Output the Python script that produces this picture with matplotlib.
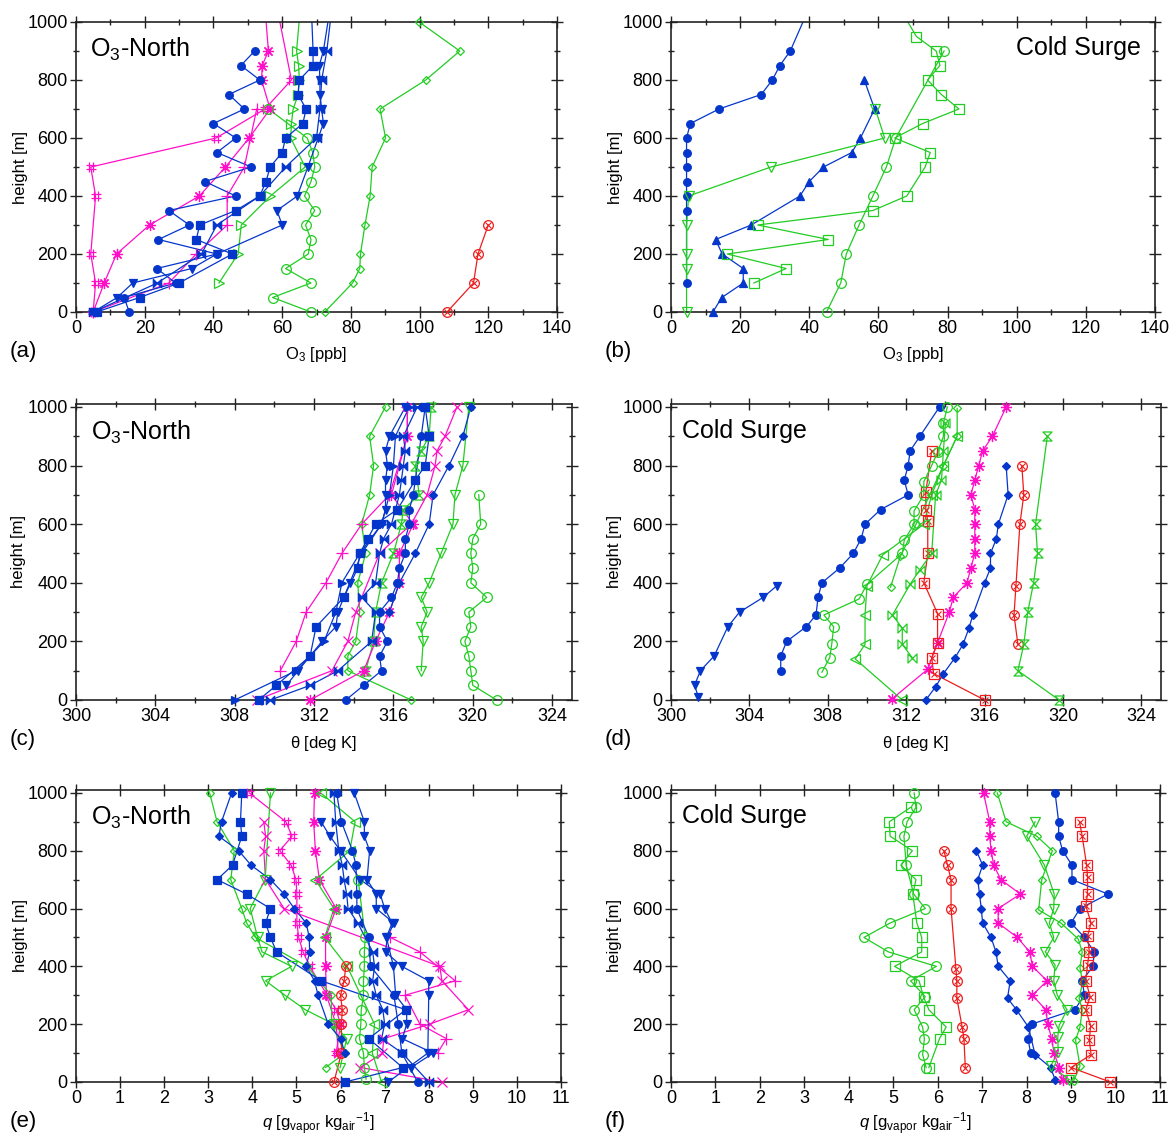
import numpy as np
import matplotlib
matplotlib.use("Agg")
import matplotlib.pyplot as plt
from matplotlib.path import Path
from matplotlib.ticker import MultipleLocator

plt.rcParams['font.family'] = ['Liberation Sans', 'DejaVu Sans']
plt.rcParams['mathtext.fontset'] = 'custom'
plt.rcParams['mathtext.rm'] = 'Liberation Sans'
plt.rcParams['mathtext.it'] = 'Liberation Sans:italic'

# ---------------- data: (height [m], value) ----------------
# (a) O3, O3-North
a_blue_circle = [(0, 15.5), (50, 14), (100, 29), (150, 23.5), (200, 41), (250, 24), (300, 33), (350, 27),
                 (400, 46.5), (450, 37.5), (500, 51), (550, 41), (600, 46.5), (650, 40), (700, 49),
                 (750, 44.5), (800, 53.5), (850, 48), (900, 52)]
a_blue_square = [(0, 6), (50, 18.5), (100, 30), (200, 45.5), (250, 35), (300, 36), (350, 46.5), (400, 53.5),
                 (450, 55.3), (500, 56.5), (550, 60), (600, 61), (650, 66), (700, 67), (750, 64.6), (800, 65),
                 (850, 69), (900, 69), (1050, 68.5)]
a_blue_tri = [(0, 5), (50, 12), (100, 16.5), (150, 33.7), (200, 41), (300, 60), (350, 58.5), (400, 64.4),
              (500, 67.5), (600, 70.5), (650, 72), (700, 71.5), (750, 71), (800, 71), (850, 70.8), (900, 72),
              (1050, 74)]
a_blue_bow = [(0, 5), (100, 23.7), (200, 36.5), (300, 41), (400, 53.5), (500, 61), (600, 70), (700, 71),
              (800, 71.5), (900, 73), (1050, 74.5)]
a_green_right = [(100, 41.6), (200, 47.2), (300, 48.1), (400, 56.6), (500, 66.7), (600, 62.5), (650, 62.7),
                 (700, 63.2), (750, 64.7), (800, 65), (850, 64.8), (900, 64.2), (1050, 65.3)]
a_green_circle = [(0, 68.4), (50, 57.2), (100, 68.4), (150, 61), (200, 67.6), (250, 68.4), (300, 66.8),
                  (350, 69.5), (400, 66.5), (450, 68.4), (500, 69.5), (550, 68.9), (600, 67.3), (700, 56)]
a_green_diamond = [(0, 72.4), (100, 80.5), (150, 82.6), (200, 82.8), (300, 84.1), (400, 85.6), (500, 86.2),
                   (600, 90.1), (700, 88.5), (800, 101.8), (900, 111.7), (1000, 99.9)]
a_red_circle = [(0, 108), (100, 115.7), (200, 117), (300, 120)]
a_pink_ast = [(0, 5), (100, 8.2), (200, 11.8), (300, 21.4), (400, 35.9), (500, 43.5), (600, 50.4),
              (700, 56.5), (800, 54), (850, 54.2), (900, 56), (1050, 55)]
a_pink_hash = [(0, 5), (100, 5.7), (200, 4.3), (400, 5.7), (500, 4.3), (600, 40.8), (700, 55), (800, 62.7),
               (1050, 58.5)]
a_pink_plus = [(0, 5), (100, 27), (200, 35), (300, 44), (400, 44), (500, 49), (700, 52.6)]

# (b) O3, Cold Surge
b_blue_circle = [(100, 4.5), (350, 4.5), (400, 4.5), (450, 4.5), (500, 4.5), (550, 4.5), (600, 4.5),
                 (650, 5.6), (700, 13.9), (750, 26.1), (800, 29.3), (850, 31.5), (900, 34.5), (1050, 40)]
b_blue_tri = [(0, 12.1), (50, 14.7), (100, 20.9), (150, 20.9), (200, 14.8), (250, 12.9), (300, 23.2),
              (400, 37.3), (450, 40), (500, 44.1), (550, 52.3), (600, 54.8), (700, 58.9), (800, 55.9)]
b_green_tri = [(0, 4.5), (150, 4.5), (200, 4.5), (300, 4.5), (400, 5.1), (500, 28.9), (600, 61.8), (700, 59.1)]
b_green_square = [(100, 24), (150, 33.3), (200, 16.3), (250, 45.5), (300, 25.1), (350, 58.4), (400, 68.2),
                  (500, 73.5), (550, 75), (600, 64.7), (650, 72.8), (700, 83.3), (750, 78.2), (800, 74.2),
                  (850, 77.8), (900, 76.7), (950, 71), (1050, 66)]
b_green_circle = [(0, 45), (100, 49.1), (200, 50.7), (300, 54.4), (400, 58.4), (500, 62.3), (600, 65), (900, 79)]

# (c) theta, O3-North
c_blue_right = [(0, 308), (100, 311.1), (200, 312.5), (300, 313.1), (400, 313.4), (500, 314.3), (600, 315.4),
                (700, 315.8), (800, 316.0), (900, 316.1), (1000, 316.8)]
c_blue_square = [(0, 309.2), (50, 310.1), (150, 311.8), (250, 312.1), (350, 313.5), (450, 314.2), (500, 314.3),
                 (550, 314.7), (600, 315.1), (650, 316.2), (750, 317.1), (800, 317.6), (900, 317.8), (1000, 317.6)]
c_blue_bow = [(0, 309.8), (50, 311.8), (100, 313.2), (200, 314.9), (300, 315.1), (350, 314.4), (400, 315.1),
              (500, 315.3), (550, 315.5), (600, 315.9), (700, 316.3), (750, 316.4), (800, 316.5), (850, 316.6),
              (900, 316.5), (1000, 317.2)]
c_blue_tri = [(50, 310.6), (100, 311.2), (200, 312.4), (250, 313.1), (300, 313.2), (400, 313.8), (500, 314.4),
              (600, 315.4), (650, 315.6), (700, 315.6), (750, 315.6), (800, 315.7), (850, 315.6), (900, 315.8),
              (1000, 316.6)]
c_blue_circle = [(0, 313.6), (50, 314.5), (100, 315.4), (150, 315.3), (200, 315.7), (250, 315.3), (300, 315.3),
                 (350, 315.9), (400, 316.2), (450, 316.3), (500, 316.6), (550, 316.6), (600, 316.8), (650, 316.8),
                 (700, 317), (900, 317.4), (1000, 317.6)]
c_blue_diamond = [(300, 315.8), (400, 316.3), (500, 317.1), (600, 317.8), (700, 318), (800, 318.8), (900, 319.5),
                  (1000, 319.9)]
c_pink_plus = [(100, 310.3), (200, 311.1), (300, 311.6), (400, 312.6), (500, 313.4), (600, 314.4), (700, 315.8),
               (900, 316.7), (1000, 316.7)]
c_pink_x = [(0, 309.1), (100, 312.9), (200, 313.7), (300, 314.1), (500, 315.3), (600, 316.9), (700, 317.7),
            (800, 318.1), (850, 318.2), (900, 318.6), (1000, 319.2)]
c_pink_ast = [(0, 311.8), (100, 314.5), (200, 315.1), (300, 315.8), (400, 316.3), (500, 316.3), (600, 317),
              (700, 315.9), (900, 316.7), (1000, 316.7)]
c_green_diamond = [(0, 316.9), (100, 313.7), (150, 313.7), (200, 314.1), (300, 314.3), (400, 314.2), (500, 314.6),
                   (600, 314.4), (700, 314.8), (800, 315), (900, 314.8), (1000, 315.6)]
c_green_hour = [(100, 314.6), (200, 315), (300, 315.1), (400, 315.4), (500, 316), (600, 316.4), (650, 316.5),
                (700, 317.3), (800, 317.1), (850, 317.4), (900, 317.8), (1000, 317.9)]
c_green_tri = [(100, 317.4), (200, 317.5), (250, 317.4), (300, 317.7), (350, 317.4), (400, 317.8), (500, 318.4),
               (600, 319), (700, 319.1), (800, 319.5), (1000, 319.8)]
c_green_circle = [(0, 321.2), (50, 320), (100, 319.9), (150, 319.8), (200, 319.6), (250, 319.9), (300, 319.8),
                  (350, 320.7), (400, 319.9), (450, 320), (500, 319.9), (550, 320), (600, 320.4), (700, 320.3)]

# (d) theta, Cold Surge
d_blue_tri = [(10, 301.4), (50, 301.2), (100, 301.5), (150, 302.2), (250, 302.9), (300, 303.5), (350, 304.7),
              (390, 305.4)]
d_blue_circle = [(100, 305.6), (150, 305.6), (200, 305.9), (250, 306.9), (290, 307.4), (350, 307.5), (400, 307.7),
                 (450, 308.6), (500, 309.3), (550, 309.7), (600, 309.9), (650, 310.7), (700, 312.1), (750, 311.9),
                 (800, 312.1), (850, 312.2), (900, 312.7), (1000, 313.7)]
d_blue_diamond = [(0, 313), (45, 313.5), (90, 313.9), (145, 314.5), (190, 314.9), (245, 315.2), (290, 315.4),
                  (400, 316), (450, 316.3), (500, 316.3), (550, 316.6), (600, 316.7), (700, 317.2), (800, 317.1)]
d_pink_ast = [(5, 311.3), (105, 313.1), (195, 313.6), (300, 314.2), (350, 314.4), (400, 315.1), (450, 315.3),
              (500, 315.5), (550, 315.5), (600, 315.5), (650, 315.5), (700, 315.3), (750, 315.5), (800, 315.7),
              (850, 315.9), (900, 316.4), (1000, 317.1)]
d_red_square = [(0, 316), (90, 313.4), (145, 313.3), (195, 313.6), (295, 313.6), (400, 312.9), (500, 313.1),
                (610, 313.1), (650, 313), (710, 313), (850, 313.3)]
d_red_circle = [(190, 317.7), (290, 317.5), (390, 317.6), (600, 317.8), (700, 318), (800, 317.9)]
d_green_hour = [(0, 319.8), (100, 317.7), (190, 318), (300, 318.2), (400, 318.5), (500, 318.7), (600, 318.6),
                (900, 319.2)]
d_green_circle = [(95, 307.7), (145, 308.1), (190, 308.2), (250, 308.3), (290, 307.8), (345, 309.6), (395, 310),
                  (500, 311.8), (545, 311.9), (600, 312.4), (645, 312.4), (700, 312.9), (745, 312.9), (800, 313.3),
                  (845, 313.6), (900, 313.9), (945, 313.9), (1000, 314.1)]
d_green_left = [(0, 311.8), (140, 309.4), (190, 309.9), (290, 309.9), (390, 310), (495, 310.8), (600, 312.9),
                (700, 313.3), (800, 313.9), (900, 314.6)]
d_green_bow = [(145, 312.3), (190, 311.8), (245, 311.8), (290, 311.3), (395, 312.2), (445, 312.7), (500, 313.3),
               (700, 313.5), (750, 313.8), (850, 313.9), (945, 314)]
d_green_diamond = [(385, 311.2), (490, 311.7), (600, 312.5), (800, 313.9), (900, 314.6), (995, 314.6)]

# (e) q, O3-North
e_blue_square = [(0, 6.1), (50, 7.41), (150, 6.64), (250, 7.48), (350, 5.56), (450, 4.55), (500, 4.41),
                 (550, 4.3), (600, 4.41), (650, 3.87), (700, 3.2), (750, 3.55), (850, 3.76), (900, 3.73),
                 (1000, 3.76)]
e_blue_diamond = [(100, 6.1), (150, 6.0), (200, 5.72), (300, 5.49), (350, 5.41), (400, 5.22), (450, 5.3),
                  (500, 5.29), (550, 5.22), (600, 4.95), (650, 4.72), (700, 4.41), (750, 3.97), (800, 3.69),
                  (850, 3.24), (900, 3.3), (1000, 3.53)]
e_green_diamond = [(50, 5.66), (100, 6.1), (200, 5.8), (300, 5.79), (400, 5.24), (500, 4.07), (550, 3.87),
                   (600, 3.76), (700, 3.51), (800, 3.59), (900, 3.2), (1000, 3.03)]
e_green_tri = [(50, 5.99), (150, 6.14), (200, 5.85), (250, 5.2), (300, 4.74), (350, 4.3), (400, 4.89),
               (450, 4.22), (500, 4.12), (600, 3.95), (700, 4.29), (1000, 4.41)]
e_green_left = [(0, 6.93), (100, 6.72), (200, 6.77), (400, 6.15), (500, 5.64), (600, 5.85), (700, 5.43),
                (800, 6.21), (900, 6.33), (1000, 5.55)]
e_green_circle = [(10, 6.58), (50, 6.54), (100, 6.52), (150, 6.43), (200, 6.46), (250, 6.47), (300, 6.52),
                  (350, 6.52), (400, 6.54), (450, 6.54), (500, 6.56), (700, 6.4)]
e_red_circle = [(0, 5.85), (100, 6.02), (200, 6.02), (250, 6.04), (300, 6.0), (350, 6.08), (400, 6.12)]
e_blue_circle = [(0, 7.75), (100, 7.39), (200, 7.31), (300, 7.21), (400, 6.68), (500, 6.64), (600, 6.37),
                 (650, 6.37), (750, 6.35), (800, 6.27), (900, 6.02), (1000, 5.91)]
e_blue_bow = [(0, 8.0), (100, 7.4), (150, 6.93), (200, 7.0), (250, 6.96), (300, 6.81), (350, 6.73), (400, 6.77),
              (450, 6.73), (550, 6.39), (600, 6.17), (650, 6.14), (700, 6.08), (750, 6.04), (800, 5.96),
              (900, 5.89), (1000, 5.85)]
e_blue_tri = [(0, 7.08), (100, 7.98), (300, 8.0), (350, 8.0), (400, 7.39), (450, 7.02), (500, 7.06), (550, 7.21),
              (600, 6.81), (650, 6.81), (700, 6.6), (800, 6.66), (850, 6.54), (900, 6.54), (1000, 6.31)]
e_blue_tri2 = [(50, 7.6), (100, 8.1), (150, 7.4), (200, 7.5), (250, 7.5), (300, 7.25), (400, 7.2), (500, 7.04),
               (550, 7.17), (600, 7.0), (650, 6.9), (700, 6.45), (800, 6.0), (850, 5.76), (900, 5.56)]
e_pink_hash = [(100, 5.9), (200, 6.0), (250, 5.9), (300, 5.7), (400, 5.3), (450, 5.15), (500, 5.05), (550, 5.01),
               (600, 5.01), (650, 5.01), (700, 4.99), (750, 4.88), (800, 4.62), (850, 4.9), (900, 4.76),
               (1000, 3.93)]
e_pink_x = [(0, 8.3), (50, 6.45), (100, 6.95), (150, 6.98), (200, 8.02), (250, 8.9), (350, 8.3), (400, 8.25),
            (600, 4.72), (700, 4.3), (800, 4.26), (850, 4.3), (900, 4.26)]
e_pink_plus = [(100, 8.2), (150, 8.4), (200, 7.8), (300, 7.46), (350, 8.6), (400, 8.2), (450, 7.8), (500, 7.13)]
e_pink_ast = [(100, 5.95), (200, 5.9), (300, 5.68), (400, 5.66), (500, 5.66), (600, 5.9), (700, 5.52),
              (800, 5.43), (900, 5.39), (1000, 5.41)]

# (f) q, Cold Surge
f_green_circle = [(50, 5.74), (95, 5.66), (150, 5.7), (190, 5.66), (250, 5.47), (295, 5.72), (350, 5.39),
                  (400, 5.97), (450, 4.89), (500, 4.34), (550, 4.93), (600, 5.72), (650, 5.46), (750, 5.29),
                  (850, 5.24), (900, 5.31), (950, 5.51), (1000, 5.47)]
f_green_square = [(50, 5.8), (150, 6.04), (190, 6.19), (250, 5.8), (295, 5.68), (350, 5.58), (400, 5.03),
                  (450, 5.64), (500, 5.64), (550, 5.53), (650, 5.44), (700, 5.51), (750, 5.17), (800, 5.43),
                  (850, 4.93), (900, 4.91), (950, 5.39)]
f_red_circle = [(50, 6.62), (150, 6.59), (190, 6.55), (290, 6.43), (350, 6.43), (390, 6.41), (600, 6.3),
                (700, 6.3), (750, 6.22), (800, 6.14)]
f_blue_diamond = [(8, 8.64), (50, 8.54), (95, 8.19), (190, 8.04), (250, 7.77), (290, 7.57), (350, 7.63),
                  (400, 7.36), (450, 7.31), (500, 7.2), (550, 7.01), (600, 6.98), (650, 6.94), (700, 6.9),
                  (750, 7.01), (800, 6.87)]
f_blue_circle = [(100, 8.09), (150, 8.03), (200, 8.11), (250, 9.08), (300, 9.3), (350, 9.25), (400, 9.49),
                 (450, 9.52), (500, 9.3), (550, 9.0), (600, 9.2), (650, 9.83), (700, 9.02), (750, 9.02),
                 (800, 8.81), (850, 8.72), (900, 8.72), (1000, 8.64)]
f_pink_ast = [(8, 8.81), (50, 8.73), (100, 8.62), (150, 8.56), (200, 8.48), (250, 8.43), (300, 8.13), (350, 8.46),
              (400, 8.13), (450, 8.07), (500, 7.79), (550, 7.36), (600, 7.36), (650, 7.86), (700, 7.42),
              (750, 7.26), (800, 7.2), (850, 7.17), (900, 7.17), (1000, 7.03)]
f_green_tri = [(8, 8.96), (55, 8.54), (105, 8.71), (155, 8.7), (195, 8.73), (250, 8.91), (300, 8.69), (350, 8.61),
               (405, 8.64), (450, 8.42), (500, 8.61), (550, 8.51), (600, 8.61), (650, 8.62), (750, 8.4),
               (850, 8.0), (900, 8.19)]
f_green_diamond = [(5, 9.06), (55, 9.2), (145, 9.1), (190, 9.2), (250, 9.25), (290, 9.18), (345, 9.26),
                   (395, 9.2), (450, 9.25), (495, 9.16), (550, 8.77), (595, 8.27), (700, 8.34), (800, 8.58),
                   (850, 8.23), (900, 7.54), (1000, 7.34)]
f_red_square = [(0, 9.88), (50, 9.0), (95, 9.45), (145, 9.41), (195, 9.44), (250, 9.33), (295, 9.43),
                (350, 9.33), (405, 9.37), (450, 9.41), (505, 9.37), (550, 9.45), (610, 9.33), (650, 9.37),
                (710, 9.37), (750, 9.35), (850, 9.25), (900, 9.19)]

# ---------------- styles ----------------
BLUE = '#0536cc'
GREEN = '#22cc22'
PINK = '#ff10c8'
RED = '#ee1c1c'

bowtie = Path([(-1, -1), (-1, 1), (1, -1), (1, 1), (-1, -1)], [1, 2, 2, 2, 79])
hourglass = Path([(-1, 1), (1, 1), (-1, -1), (1, -1), (-1, 1)], [1, 2, 2, 2, 79])
hashm = Path([(-0.4, -1), (-0.4, 1), (0.4, -1), (0.4, 1), (-1, -0.4), (1, -0.4), (-1, 0.4), (1, 0.4)],
             [1, 2, 1, 2, 1, 2, 1, 2])

STY = {
    'bo': dict(c=BLUE, m='o', ms=5.5, fill=True),
    'bs': dict(c=BLUE, m='s', ms=5.5, fill=True),
    'bv': dict(c=BLUE, m='v', ms=6, fill=True),
    'b^': dict(c=BLUE, m='^', ms=6, fill=True),
    'b>': dict(c=BLUE, m='>', ms=6, fill=True),
    'bD': dict(c=BLUE, m='D', ms=4.5, fill=True),
    'bbow': dict(c=BLUE, m=bowtie, ms=6, fill=True),
    'go': dict(c=GREEN, m='o', ms=7, fill=False),
    'gd': dict(c=GREEN, m='D', ms=4.5, fill=False),
    'gv': dict(c=GREEN, m='v', ms=6.5, fill=False),
    'g>': dict(c=GREEN, m='>', ms=6.5, fill=False),
    'g<': dict(c=GREEN, m='<', ms=6.5, fill=False),
    'gs': dict(c=GREEN, m='s', ms=6.5, fill=False),
    'ghg': dict(c=GREEN, m=hourglass, ms=6.5, fill=False),
    'gbow': dict(c=GREEN, m=bowtie, ms=6.5, fill=False),
    'mast': dict(c=PINK, m=(8, 2, 0), ms=8, fill=False),
    'mhash': dict(c=PINK, m=hashm, ms=7, fill=False),
    'mx': dict(c=PINK, m='x', ms=7, fill=False),
    'm+': dict(c=PINK, m='+', ms=8, fill=False),
    'rox': dict(c=RED, m='o', ms=7, fill=False, cross=True),
    'rsx': dict(c=RED, m='s', ms=7, fill=False, cross=True),
}

panels = {
    'a': [(a_pink_hash, 'mhash'), (a_pink_ast, 'mast'), (a_pink_plus, 'm+'), (a_green_right, 'g>'),
          (a_green_circle, 'go'), (a_green_diamond, 'gd'), (a_red_circle, 'rox'), (a_blue_circle, 'bo'),
          (a_blue_square, 'bs'), (a_blue_tri, 'bv'), (a_blue_bow, 'bbow')],
    'b': [(b_blue_circle, 'bo'), (b_blue_tri, 'b^'), (b_green_tri, 'gv'), (b_green_square, 'gs'),
          (b_green_circle, 'go')],
    'c': [(c_green_diamond, 'gd'), (c_green_hour, 'ghg'), (c_green_tri, 'gv'), (c_green_circle, 'go'),
          (c_pink_plus, 'm+'), (c_pink_x, 'mx'), (c_pink_ast, 'mast'), (c_blue_right, 'b>'),
          (c_blue_square, 'bs'), (c_blue_bow, 'bbow'), (c_blue_tri, 'bv'), (c_blue_circle, 'bo'),
          (c_blue_diamond, 'bD')],
    'd': [(d_blue_tri, 'bv'), (d_blue_circle, 'bo'), (d_blue_diamond, 'bD'), (d_pink_ast, 'mast'),
          (d_red_square, 'rsx'), (d_red_circle, 'rox'), (d_green_hour, 'ghg'), (d_green_circle, 'go'),
          (d_green_left, 'g<'), (d_green_bow, 'gbow'), (d_green_diamond, 'gd')],
    'e': [(e_pink_hash, 'mhash'), (e_pink_x, 'mx'), (e_pink_plus, 'm+'), (e_pink_ast, 'mast'),
          (e_green_diamond, 'gd'), (e_green_tri, 'gv'), (e_green_left, 'g<'), (e_green_circle, 'go'),
          (e_red_circle, 'rox'), (e_blue_square, 'bs'), (e_blue_diamond, 'bD'), (e_blue_circle, 'bo'),
          (e_blue_bow, 'bbow'), (e_blue_tri, 'bv'), (e_blue_tri2, 'bv')],
    'f': [(f_green_circle, 'go'), (f_green_square, 'gs'), (f_red_circle, 'rox'), (f_blue_diamond, 'bD'),
          (f_blue_circle, 'bo'), (f_pink_ast, 'mast'), (f_green_tri, 'gv'), (f_green_diamond, 'gd'),
          (f_red_square, 'rsx')],
}

W, H = 1170, 1139
fig = plt.figure(figsize=(W / 100, H / 100), dpi=100)


def px_rect(x0, x1, y0, y1):
    return [x0 / W, 1 - y1 / H, (x1 - x0) / W, (y1 - y0) / H]


layout = {
    # x0, x1, ytop, ybottom (pixels)
    'a': (76, 557, 22, 312), 'b': (671, 1155, 22, 312),
    'c': (76, 572, 404, 700), 'd': (671, 1161, 404, 700),
    'e': (76, 561, 790, 1082), 'f': (671, 1160, 790, 1082),
}

O3_LABEL = r'O$_3$ [ppb]'
TH_LABEL = r'$\mathrm{\theta}$ [deg K]'
Q_LABEL = r'$q$ [g$_{\mathrm{vapor}}$ kg$_{\mathrm{air}}$$^{\mathrm{-1}}$]'


def draw(ax, pts, key, top):
    st = STY[key]
    h = np.array([p[0] for p in pts], float)
    v = np.array([p[1] for p in pts], float)
    ax.plot(v, h, color=st['c'], lw=0.9, zorder=2)
    keep = h <= top
    ax.plot(v[keep], h[keep], ls='none', marker=st['m'], ms=st['ms'], mec=st['c'],
            mfc=st['c'] if st['fill'] else 'none', mew=0.9, clip_on=False, zorder=3)
    if st.get('cross'):
        ax.plot(v[keep], h[keep], ls='none', marker='x', ms=st['ms'] * 0.55, color=st['c'],
                mew=0.8, clip_on=False, zorder=3)


for name, (x0, x1, y0, y1) in layout.items():
    ax = fig.add_axes(px_rect(x0, x1, y0, y1))
    top = 1000 if name in 'ab' else 1010
    for pts, key in panels[name]:
        draw(ax, pts, key, top)
    ax.set_ylim(0, top)
    ax.yaxis.set_major_locator(MultipleLocator(200))
    ax.yaxis.set_minor_locator(MultipleLocator(100))
    label_y = -0.115
    if name in 'ab':
        ax.set_xlim(0, 140)
        ax.xaxis.set_major_locator(MultipleLocator(20))
        ax.xaxis.set_minor_locator(MultipleLocator(10))
        xl = O3_LABEL
    elif name in 'cd':
        ax.set_xlim(300, 325)
        ax.xaxis.set_major_locator(MultipleLocator(4))
        ax.xaxis.set_minor_locator(MultipleLocator(2))
        xl = TH_LABEL
    else:
        ax.set_xlim(0, 11)
        ax.xaxis.set_major_locator(MultipleLocator(1))
        xl = Q_LABEL
        label_y = -0.098
    ax.tick_params(which='both', direction='inout', top=True, right=True, labelsize=13, width=1.0,
                   color='#222222')
    ax.tick_params(which='major', length=8, pad=2)
    ax.tick_params(which='minor', length=5)
    for s in ax.spines.values():
        s.set_linewidth(1.2)
        s.set_color('#222222')
    ax.set_xlabel(xl, fontsize=12)
    ax.xaxis.set_label_coords(0.5, label_y)
    ax.set_ylabel('height [m]', fontsize=12)
    ax.yaxis.set_label_coords(-0.10, 0.5)

    if name in 'ace':
        ax.text(0.03, 0.905, r'O$_3$-North', transform=ax.transAxes, fontsize=18, va='center', ha='left')
    elif name == 'b':
        ax.text(0.97, 0.91, 'Cold Surge', transform=ax.transAxes, fontsize=18, va='center', ha='right')
    else:
        ax.text(0.022, 0.91, 'Cold Surge', transform=ax.transAxes, fontsize=18, va='center', ha='left')

    fig.text((x0 - 66) / W, 1 - (y1 + 40) / H, '(%s)' % name, fontsize=16, va='center', ha='left')

fig.savefig('out.png', dpi=100)
